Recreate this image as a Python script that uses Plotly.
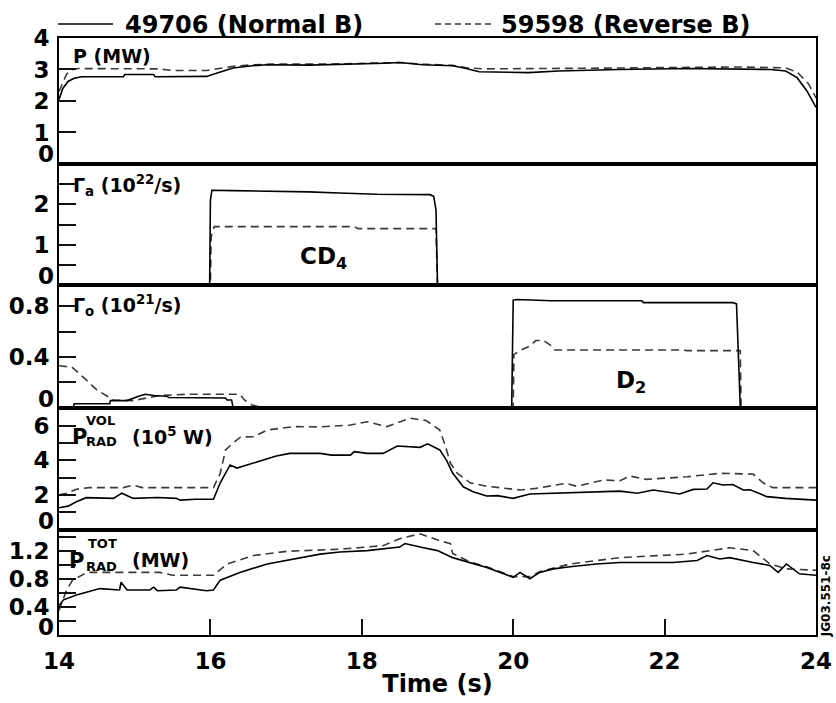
import plotly.graph_objects as go

# ---------------- data ----------------
x_ticks = [14, 16, 18, 20, 22, 24]

# Panel 1: P (MW)
t_p_norm = [14.0, 14.05, 14.12, 14.2, 14.3, 14.85, 14.87, 15.25, 15.27, 15.95, 16.1, 16.3, 16.55, 16.75, 17.3, 17.8,
            18.3, 18.5, 18.8, 19.2, 19.35, 19.55, 20.2, 20.6, 21.4, 22.3, 23.4, 23.6, 23.75, 23.88, 24.0]
p_norm = [2.05, 2.4, 2.62, 2.72, 2.77, 2.77, 2.84, 2.84, 2.77, 2.78, 2.9, 3.05, 3.12, 3.15, 3.14, 3.16,
          3.2, 3.22, 3.15, 3.12, 3.05, 2.93, 2.9, 2.95, 3.0, 3.03, 3.0, 2.95, 2.74, 2.32, 1.8]
t_p_rev = [14.0, 14.05, 14.1, 14.15, 14.25, 15.3, 15.5, 15.95, 16.1, 16.3, 16.55, 16.8, 17.5, 18.3, 18.5, 18.8,
           19.2, 19.4, 19.6, 21.0, 22.0, 23.0, 23.6, 23.75, 23.9, 24.0]
p_rev = [2.3, 2.6, 2.85, 2.98, 3.03, 3.02, 2.97, 2.97, 3.03, 3.1, 3.15, 3.17, 3.17, 3.2, 3.22, 3.17,
         3.13, 3.05, 3.02, 3.04, 3.07, 3.08, 3.05, 2.92, 2.55, 2.1]

# Panel 2: Gamma_a (1e22/s), CD4 puff
t_ga_norm = [14.0, 15.99, 16.0, 16.02, 16.3, 16.9, 17.3, 17.7, 18.2, 18.9, 18.95, 18.98, 19.0, 24.0]
ga_norm = [0, 0, 2.1, 2.35, 2.34, 2.33, 2.31, 2.28, 2.25, 2.24, 2.2, 1.86, 0, 0]
t_ga_rev = [14.0, 16.0, 16.01, 16.05, 17.9, 17.95, 18.98, 19.0, 24.0]
ga_rev = [0, 0, 1.2, 1.45, 1.45, 1.4, 1.4, 0, 0]

# Panel 3: Gamma_o (1e21/s), D2 puff
t_go_norm = [14.0, 14.19, 14.2, 14.67, 14.68, 14.9, 15.05, 15.14, 15.25, 15.42, 15.45, 15.64, 15.66, 16.2, 16.22,
             16.28, 16.3, 19.98, 20.0, 20.05, 20.5, 21.7, 21.72, 22.9, 22.95, 23.0, 24.0]
go_norm = [0, 0, 0.03, 0.03, 0.055, 0.055, 0.09, 0.105, 0.095, 0.09, 0.08, 0.08, 0.075, 0.075, 0.06,
           0.06, 0, 0, 0.85, 0.855, 0.845, 0.845, 0.83, 0.83, 0.82, 0, 0]
t_go_rev = [14.0, 14.17, 14.32, 14.5, 14.72, 14.98, 15.33, 15.69, 16.39, 16.45, 16.55, 16.7, 20.0, 20.01, 20.1,
            20.2, 20.3, 20.4, 20.5, 20.55, 22.24, 22.3, 23.0, 23.01, 24.0]
go_rev = [0.33, 0.32, 0.24, 0.14, 0.06, 0.055, 0.095, 0.105, 0.105, 0.06, 0.02, 0, 0, 0.42, 0.455,
          0.48, 0.53, 0.53, 0.49, 0.455, 0.455, 0.45, 0.45, 0, 0]

# Panel 4: P_RAD^VOL (1e5 W)
t_pv_norm = [14.0, 14.12, 14.23, 14.36, 14.72, 14.83, 14.98, 15.3, 15.55, 15.6, 15.8, 16.04, 16.13, 16.26, 16.35,
             16.5, 16.65, 16.87, 17.05, 17.45, 17.6, 17.85, 17.9, 18.07, 18.28, 18.47, 18.77, 18.87, 19.03, 19.12,
             19.2, 19.34, 19.47, 19.65, 19.79, 20.0, 20.22, 20.75, 21.41, 21.64, 21.85, 22.2, 22.38, 22.56, 22.64,
             22.77, 22.9, 23.04, 23.13, 23.35, 23.6, 24.0]
pv_norm = [1.26, 1.35, 1.6, 1.84, 1.8, 2.1, 1.8, 1.85, 1.8, 1.7, 1.75, 1.75, 2.7, 3.73, 3.55,
           3.75, 3.92, 4.25, 4.4, 4.4, 4.3, 4.3, 4.5, 4.4, 4.4, 4.83, 4.75, 4.95, 4.6, 4.0,
           3.26, 2.47, 2.18, 1.94, 1.96, 1.8, 2.05, 2.13, 2.22, 2.1, 2.28, 2.05, 2.32, 2.34, 2.7,
           2.57, 2.6, 2.28, 2.3, 1.9, 1.8, 1.7]
t_pv_rev = [14.0, 14.1, 14.23, 14.4, 14.85, 14.98, 15.1, 15.6, 16.04, 16.13, 16.2, 16.3, 16.4, 16.57, 16.75,
            17.1, 17.45, 17.85, 18.07, 18.33, 18.64, 18.85, 19.03, 19.1, 19.17, 19.26, 19.43, 19.65, 20.1,
            20.3, 20.7, 20.84, 21.19, 21.41, 21.54, 21.76, 22.3, 22.73, 23.17, 23.3, 23.43, 24.0]
pv_rev = [2.0, 2.1, 2.33, 2.42, 2.42, 2.57, 2.42, 2.42, 2.42, 3.25, 4.6, 5.0, 5.35, 5.36, 5.75,
          5.95, 5.93, 6.04, 6.23, 5.95, 6.43, 6.3, 5.75, 4.88, 3.84, 3.26, 2.7, 2.5, 2.28,
          2.38, 2.67, 2.5, 2.86, 2.82, 3.09, 2.9, 3.05, 3.25, 3.2, 2.7, 2.42, 2.42]

# Panel 5: P_RAD^TOT (MW)
t_pt_norm = [14.0, 14.06, 14.23, 14.45, 14.54, 14.8, 14.82, 14.9, 15.2, 15.25, 15.3, 15.55, 15.6, 15.95, 16.04,
             16.13, 16.39, 16.75, 17.18, 17.45, 17.71, 18.07, 18.5, 18.57, 18.77, 19.0, 19.2, 19.43, 19.65,
             19.83, 20.0, 20.09, 20.22, 20.35, 20.53, 20.75, 21.1, 21.41, 22.11, 22.43, 22.56, 22.73, 22.86,
             23.17, 23.39, 23.5, 23.61, 23.78, 24.0]
pt_norm = [0.42, 0.5, 0.57, 0.64, 0.66, 0.64, 0.75, 0.64, 0.64, 0.68, 0.63, 0.64, 0.68, 0.63, 0.64,
           0.78, 0.89, 1.01, 1.1, 1.15, 1.18, 1.2, 1.25, 1.3, 1.25, 1.2, 1.1, 1.03, 0.96,
           0.89, 0.82, 0.89, 0.8, 0.89, 0.94, 0.97, 1.01, 1.03, 1.03, 1.06, 1.13, 1.08, 1.1,
           1.03, 0.99, 0.89, 1.01, 0.87, 0.85]
t_pt_rev = [14.0, 14.1, 14.18, 14.37, 15.33, 15.5, 16.04, 16.22, 16.57, 17.01, 17.71, 18.28, 18.5, 18.64, 18.77,
            19.03, 19.17, 19.2, 19.43, 19.65, 19.83, 20.0, 20.22, 20.35, 20.75, 21.41, 22.29, 22.86, 23.17,
            23.39, 23.61, 24.0]
pt_rev = [0.35, 0.64, 0.78, 0.89, 0.89, 0.85, 0.85, 1.01, 1.13, 1.19, 1.22, 1.27, 1.37, 1.41, 1.44,
          1.34, 1.3, 1.16, 1.04, 0.97, 0.9, 0.83, 0.83, 0.9, 1.01, 1.1, 1.15, 1.24, 1.2,
          1.01, 0.94, 0.92]

label_norm = "49706 (Normal B)"
label_rev = "59598 (Reverse B)"

# y-axis ticks per panel  -- "0" is drawn separately, raised above the panel edge
y_ranges = [[0, 4], [0, 3], [0, 0.968], [0, 7.05], [0, 1.5]]
y_tickvals = [[1, 2, 3, 4], [0.5, 1, 1.5, 2, 2.5], [0.2, 0.4, 0.6, 0.8], [1, 2, 3, 4, 5, 6],
              [0.2, 0.4, 0.6, 0.8, 1.0, 1.2, 1.4]]
y_ticktext = [["1", "2", "3", "4"], ["", "1", "", "2", ""], ["", "0.4", "", "0.8"], ["", "2", "", "4", "", "6"],
              ["", "0.4", "", "0.8", "", "1.2", ""]]
zero_shift = [10, 9, 9, 9, 8]

# ---------------- figure ----------------
FONT = "DejaVu Sans"
BLACK = "black"
TICKC = "#111111"
DASHC = "#3a3a3a"
domains = [[0.789, 1.0], [0.586, 0.789], [0.381, 0.586], [0.1767, 0.381], [0.0, 0.1767]]

series = [
    (t_p_norm, p_norm, t_p_rev, p_rev),
    (t_ga_norm, ga_norm, t_ga_rev, ga_rev),
    (t_go_norm, go_norm, t_go_rev, go_rev),
    (t_pv_norm, pv_norm, t_pv_rev, pv_rev),
    (t_pt_norm, pt_norm, t_pt_rev, pt_rev),
]

fig = go.Figure()
for i, (tn, vn, tr, vr) in enumerate(series):
    k = "" if i == 0 else str(i + 1)
    fig.add_trace(go.Scatter(x=tr, y=vr, mode="lines", name=label_rev, showlegend=False,
                             line=dict(color=DASHC, width=1.6, dash="8px,5px"),
                             xaxis="x" + k, yaxis="y" + k))
    fig.add_trace(go.Scatter(x=tn, y=vn, mode="lines", name=label_norm, showlegend=False,
                             line=dict(color=BLACK, width=1.6),
                             xaxis="x" + k, yaxis="y" + k))

layout = dict(
    template="none",
    width=836, height=703,
    margin=dict(l=59, r=20, t=38, b=68, autoexpand=False),
)
tickfont = dict(family=FONT, size=23, color=BLACK, weight="bold")
for i in range(5):
    k = "" if i == 0 else str(i + 1)
    last = (i == 4)
    xa = dict(range=[14, 24], domain=[0, 1], anchor="y" + k, showline=True, mirror=True,
              linecolor=BLACK, linewidth=2, showgrid=False, zeroline=False, ticks="inside",
              tickwidth=2, tickcolor=TICKC)
    if last:
        xa.update(tickmode="array", tickvals=x_ticks, ticklen=16,
                  minor=dict(tickmode="array", tickvals=x_ticks, ticks="inside", ticklen=16, tickwidth=2,
                             tickcolor=TICKC, showgrid=False),
                  showticklabels=True, tickfont=tickfont, ticklabelstandoff=4,
                  title=dict(text="Time (s)", font=dict(family=FONT, size=24, color=BLACK, weight="bold"),
                             standoff=3))
    else:
        xa.update(ticklen=1, showticklabels=False)
    ya = dict(range=y_ranges[i], domain=domains[i], anchor="x" + k, showline=True, mirror=True,
              linecolor=BLACK, linewidth=2, showgrid=False, zeroline=False,
              tickmode="array", tickvals=y_tickvals[i], ticktext=y_ticktext[i], ticks="inside", ticklen=17,
              tickwidth=2, tickcolor=TICKC, tickfont=tickfont, ticklabelstandoff=3,
              minor=dict(tickmode="array", tickvals=y_tickvals[i], ticks="inside", ticklen=17, tickwidth=2,
                         tickcolor=TICKC, showgrid=False))
    layout["xaxis" + k] = xa
    layout["yaxis" + k] = ya
fig.update_layout(**layout)

ann = []
# raised "0" tick labels
for i in range(5):
    k = "" if i == 0 else str(i + 1)
    ann.append(dict(text="0", xref="paper", x=0, xanchor="right", xshift=-3, yref="y" + k, y=0,
                    yanchor="middle", yshift=zero_shift[i], showarrow=False, font=tickfont))

lab = dict(family=FONT, size=19, color=BLACK, weight="bold")
small = dict(family=FONT, size=13, color=BLACK, weight="bold")
big = dict(family=FONT, size=21, color=BLACK, weight="bold")
legfont = dict(family=FONT, size=24, color=BLACK, weight="bold")


def px(xp):
    return (xp - 59) / 757.0


ann += [
    dict(text="P (MW)", xref="paper", x=px(71), xanchor="left", yref="y domain", y=0.857, yanchor="middle",
         showarrow=False, font=lab),
    dict(text="Γ<sub>a</sub> (10<sup>22</sup>/s)", xref="paper", x=px(71), xanchor="left", yref="y2 domain",
         y=0.826, yanchor="middle", showarrow=False, font=lab),
    dict(text="Γ<sub>o</sub> (10<sup>21</sup>/s)", xref="paper", x=px(71), xanchor="left", yref="y3 domain",
         y=0.83, yanchor="middle", showarrow=False, font=lab),
    # P_RAD^VOL
    dict(text="P", xref="paper", x=px(70), xanchor="left", yref="y4 domain", y=0.76, yanchor="middle",
         showarrow=False, font=big),
    dict(text="VOL", xref="paper", x=px(84), xanchor="left", yref="y4 domain", y=0.89, yanchor="middle",
         showarrow=False, font=small),
    dict(text="RAD", xref="paper", x=px(84), xanchor="left", yref="y4 domain", y=0.72, yanchor="middle",
         showarrow=False, font=small),
    dict(text="(10<sup>5</sup> W)", xref="paper", x=px(130), xanchor="left", yref="y4 domain", y=0.77,
         yanchor="middle", showarrow=False, font=lab),
    # P_RAD^TOT
    dict(text="P", xref="paper", x=px(67), xanchor="left", yref="y5 domain", y=0.70, yanchor="middle",
         showarrow=False, font=big),
    dict(text="TOT", xref="paper", x=px(86), xanchor="left", yref="y5 domain", y=0.87, yanchor="middle",
         showarrow=False, font=small),
    dict(text="RAD", xref="paper", x=px(84), xanchor="left", yref="y5 domain", y=0.645, yanchor="middle",
         showarrow=False, font=small),
    dict(text="(MW)", xref="paper", x=px(130), xanchor="left", yref="y5 domain", y=0.71, yanchor="middle",
         showarrow=False, font=lab),
    # gas labels
    dict(text="CD<sub>4</sub>", xref="x2", x=17.5, yref="y2", y=0.66, showarrow=False,
         font=dict(family=FONT, size=23, color=BLACK, weight="bold")),
    dict(text="D<sub>2</sub>", xref="x3", x=21.55, yref="y3", y=0.2, showarrow=False,
         font=dict(family=FONT, size=23, color=BLACK, weight="bold")),
    # figure id
    dict(text="JG03.551-8c", xref="paper", x=px(826), xanchor="center", yref="paper", y=0.065,
         yanchor="middle", textangle=-90,
         showarrow=False, font=dict(family=FONT, size=12, color=BLACK, weight="bold")),
    # legend text
    dict(text=label_norm, xref="paper", x=px(123), xanchor="left", yref="paper", y=(635 - 25) / 597.0,
         yanchor="middle", showarrow=False, font=legfont),
    dict(text=label_rev, xref="paper", x=px(499), xanchor="left", yref="paper", y=(635 - 25) / 597.0,
         yanchor="middle", showarrow=False, font=legfont),
]
fig.update_layout(annotations=ann)

# legend line samples
ly = (635 - 24) / 597.0
fig.add_shape(type="line", xref="paper", yref="paper", x0=px(58), x1=px(113), y0=ly, y1=ly,
              line=dict(color=BLACK, width=1.6))
fig.add_shape(type="line", xref="paper", yref="paper", x0=px(435), x1=px(492), y0=ly, y1=ly,
              line=dict(color=DASHC, width=1.6, dash="6px,4px"))

fig.write_html("out.html", config={"displayModeBar": False},
               post_script="document.body.style.margin='0';document.body.style.padding='0';")
